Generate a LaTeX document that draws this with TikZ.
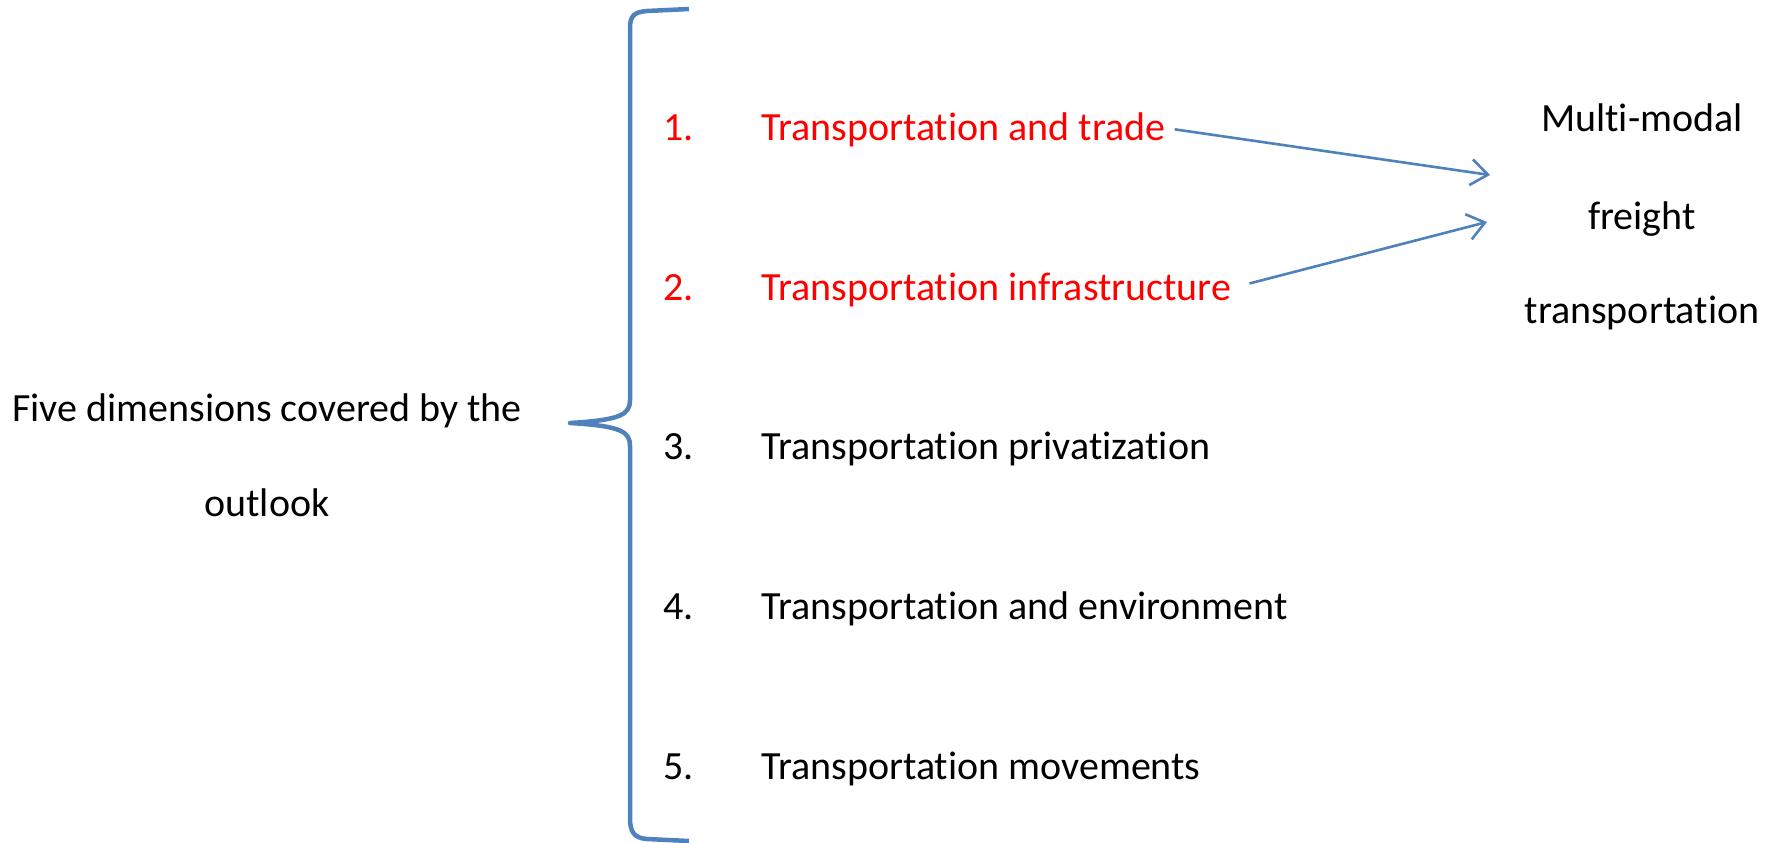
\documentclass[tikz,border=0pt]{standalone}
\usepackage{fontspec}
\setmainfont{Carlito}[Ligatures=NoCommon]
\usetikzlibrary{arrows.meta}
\definecolor{braceblue}{HTML}{4F81BD}

\begin{document}
\begin{tikzpicture}[x=1pt,y=-1pt,
  txt/.style={inner sep=0pt,font=\fontsize{40}{48}\selectfont},
  hot/.style={txt,text=red},
  link/.style={braceblue,line width=2.6pt,-{Straight Barb[length=17pt,width=26pt]}}]
\useasboundingbox (0,0) rectangle (1775,843);
% left label
\node[txt,anchor=base] (lead1) at (267,421) {Five dimensions covered by the};
\node[txt,anchor=base] (lead2) at (267,516) {outlook};
% the brace
\draw[braceblue,line width=4.5pt,line join=round]
  (689,9) -- (647,11) .. controls (634,12) and (630,16) .. (630,28)
  -- (630,400) .. controls (630,414) and (622,420) .. (570,423)
  .. controls (622,426) and (630,432) .. (630,446)
  -- (630,818) .. controls (630,832) and (634,838) .. (647,839) -- (689,841);
% numbered list
\node[hot,anchor=base west] (n1) at (663,140) {1.};
\node[hot,anchor=base west] (d1) at (761,140) {Transportation and trade};
\node[hot,anchor=base west] (n2) at (663,300) {2.};
\node[hot,anchor=base west] (d2) at (761,300) {Transportation infrastructure};
\node[txt,anchor=base west] (n3) at (663,459) {3.};
\node[txt,anchor=base west] (d3) at (761,459) {Transportation privatization};
\node[txt,anchor=base west] (n4) at (663,619) {4.};
\node[txt,anchor=base west] (d4) at (761,619) {Transportation and environment};
\node[txt,anchor=base west] (n5) at (663,779) {5.};
\node[txt,anchor=base west] (d5) at (761,779) {Transportation movements};
% right column
\node[txt,anchor=base] (mm1) at (1642,131) {Multi-modal};
\node[txt,anchor=base] (mm2) at (1642,229) {freight};
\node[txt,anchor=base] (mm3) at (1642,323) {transportation};
\coordinate (in1) at (1490,175);
\coordinate (in2) at (1487,222);
\draw[link] ([xshift=9pt]d1.east) -- (in1);
\draw[link] ([shift={(18pt,6pt)}]d2.east) -- (in2);
\end{tikzpicture}
\end{document}
